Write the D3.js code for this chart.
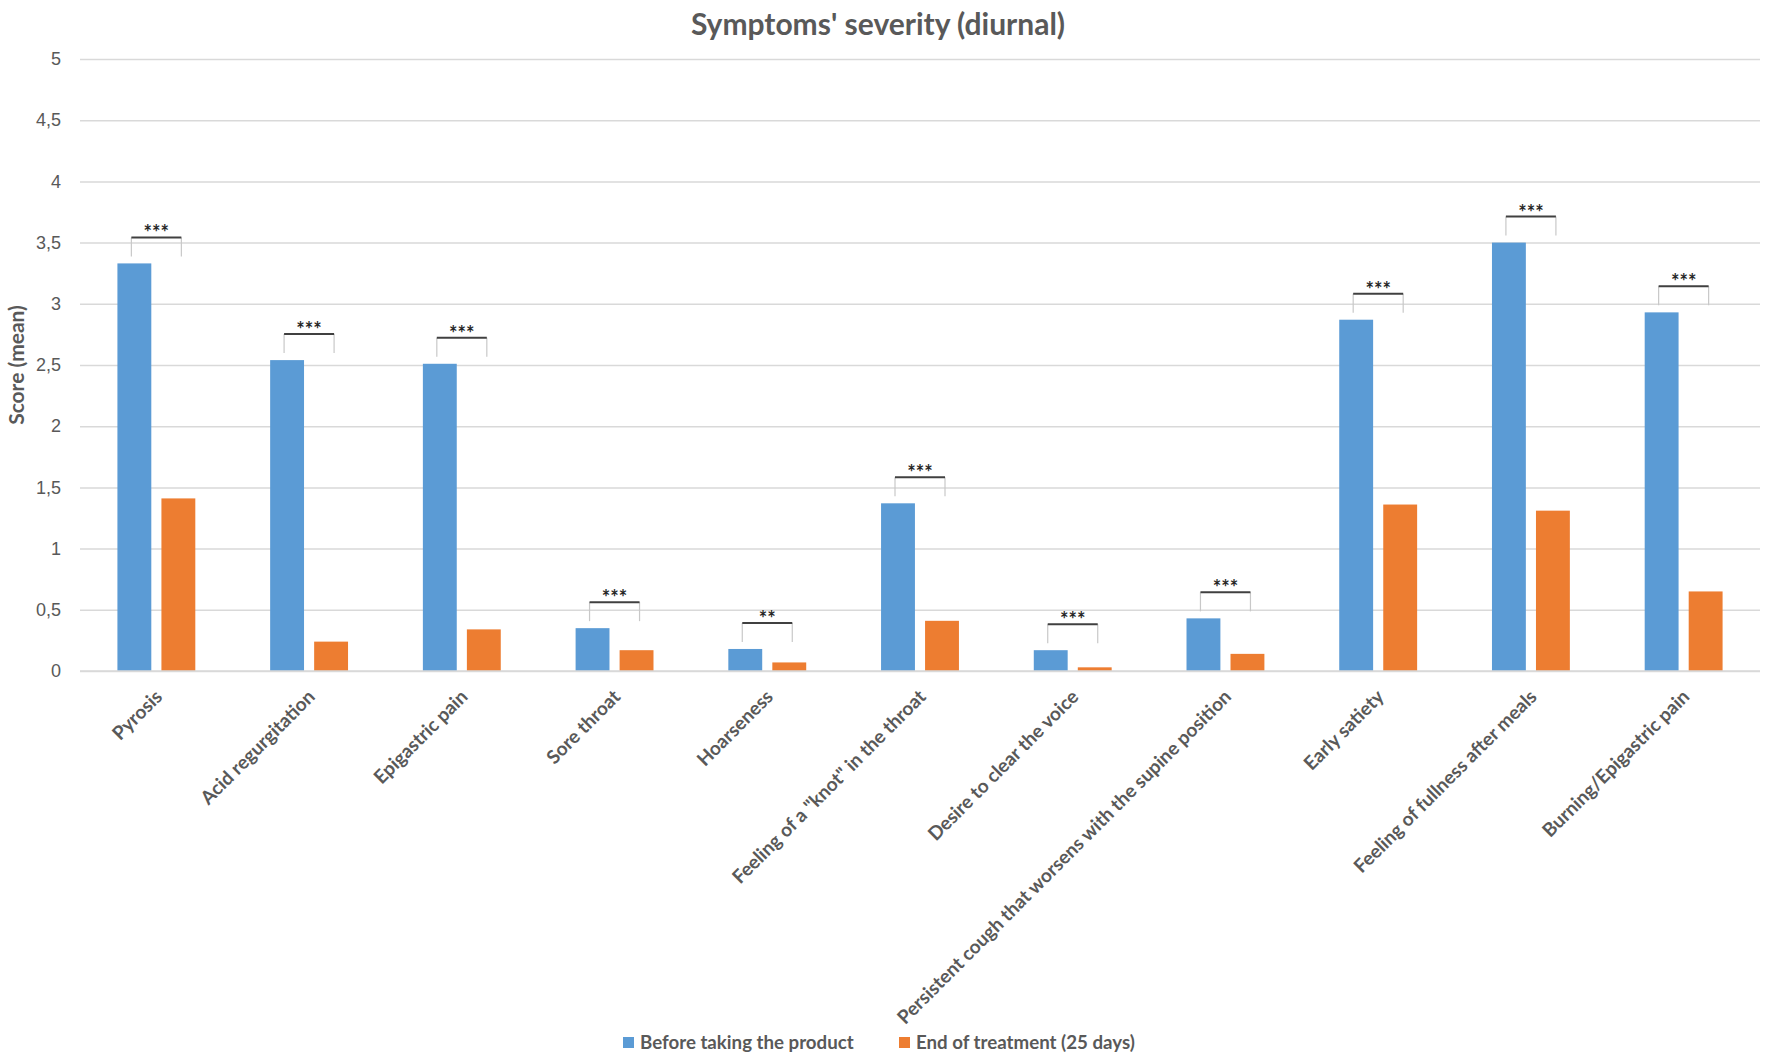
<!DOCTYPE html>
<html>
<head>
<meta charset="utf-8">
<script src="https://cdn.jsdelivr.net/npm/d3@7"></script>
<style>
  body { margin: 0; background: #fff; }
  svg { display: block; font-family: Lato, "Open Sans", sans-serif; }
</style>
</head>
<body>
<svg width="1772" height="1060"></svg>
<script>
const svg = d3.select("svg");
const width = +svg.attr("width");
const height = +svg.attr("height");

// *** DATA ***
const categories = [
    "Pyrosis",
    "Acid regurgitation",
    "Epigastric pain",
    "Sore throat",
    "Hoarseness",
    "Feeling of a \"knot\" in the throat",
    "Desire to clear the voice",
    "Persistent cough that worsens with the supine position",
    "Early satiety",
    "Feeling of fullness after meals",
    "Burning/Epigastric pain"
];
const seriesNames = ["Before taking the product", "End of treatment (25 days)"];
const beforeValues = [3.33, 2.54, 2.51, 0.35, 0.18, 1.37, 0.17, 0.43, 2.87, 3.50, 2.93];
const afterValues = [1.41, 0.24, 0.34, 0.17, 0.07, 0.41, 0.03, 0.14, 1.36, 1.31, 0.65];
const significance = ["***", "***", "***", "***", "**", "***", "***", "***", "***", "***", "***"];
const yTicks = [0, 0.5, 1, 1.5, 2, 2.5, 3, 3.5, 4, 4.5, 5];

const colors = ["#5B9BD5", "#ED7D31"];
const textColor = "#595959";

const margin = {top: 59, right: 12, bottom: 389, left: 80};
const plotW = width - margin.left - margin.right;
const plotH = height - margin.top - margin.bottom;

const g = svg.append("g")
    .attr("transform", `translate(${margin.left},${margin.top})`);

const x0 = d3.scaleBand()
    .domain(categories)
    .range([0, plotW])
    .paddingInner(0.49)
    .paddingOuter(0.245);

const x1 = d3.scaleBand()
    .domain([0, 1])
    .range([0, x0.bandwidth()])
    .paddingInner(0.23);

const y = d3.scaleLinear()
    .domain([0, 5])
    .range([plotH, 0]);

// gridlines + y labels
const yAxis = g.append("g")
    .call(d3.axisLeft(y)
        .tickValues(yTicks)
        .tickSize(-plotW)
        .tickPadding(19)
        .tickFormat(d => String(d).replace(".", ",")));
yAxis.select(".domain").remove();
yAxis.selectAll(".tick line")
    .attr("stroke", "#d9d9d9")
    .attr("stroke-width", 1.5);
yAxis.selectAll(".tick text")
    .attr("fill", textColor)
    .style("font-size", "18px");

// bars
const rows = categories.map((c, i) => ({
    cat: c,
    vals: [beforeValues[i], afterValues[i]],
    sig: significance[i]
}));

const group = g.selectAll(".group")
    .data(rows)
    .enter().append("g")
    .attr("transform", d => `translate(${x0(d.cat)},0)`);

group.selectAll("rect")
    .data(d => d.vals.map((v, k) => ({k, v})))
    .enter().append("rect")
    .attr("x", d => x1(d.k))
    .attr("y", d => y(d.v))
    .attr("width", x1.bandwidth())
    .attr("height", d => plotH - y(d.v))
    .attr("fill", d => colors[d.k]);

// category axis line
g.append("line")
    .attr("x1", 0).attr("x2", plotW)
    .attr("y1", plotH).attr("y2", plotH)
    .attr("stroke", "#d9d9d9")
    .attr("stroke-width", 1.5);

// significance brackets
const bw = x0.bandwidth();
group.each(function(d) {
    const top = y(d3.max(d.vals)) - 26;
    const left = bw / 2 - 25, right = bw / 2 + 25;
    const b = d3.select(this);
    b.append("line")
        .attr("x1", left).attr("x2", left)
        .attr("y1", top).attr("y2", top + 19)
        .attr("stroke", "#c8c8c8").attr("stroke-width", 1.2);
    b.append("line")
        .attr("x1", right).attr("x2", right)
        .attr("y1", top).attr("y2", top + 19)
        .attr("stroke", "#c8c8c8").attr("stroke-width", 1.2);
    b.append("line")
        .attr("x1", left).attr("x2", right)
        .attr("y1", top).attr("y2", top)
        .attr("stroke", "#404040").attr("stroke-width", 2);
    b.append("text")
        .attr("x", bw / 2)
        .attr("y", top + 3)
        .attr("text-anchor", "middle")
        .attr("fill", "#262626")
        .style("font-size", "20px")
        .style("font-weight", "bold")
        .text(d.sig);
});

// rotated category labels
g.selectAll(".cat-label")
    .data(categories)
    .enter().append("text")
    .attr("class", "cat-label")
    .attr("transform", d => `translate(${x0(d) + bw / 2 + 7},${plotH + 27}) rotate(-45)`)
    .attr("text-anchor", "end")
    .attr("fill", textColor)
    .style("font-size", "19px")
    .style("font-weight", "bold")
    .text(d => d);

// title
svg.append("text")
    .attr("x", 878)
    .attr("y", 35)
    .attr("text-anchor", "middle")
    .attr("fill", textColor)
    .style("font-size", "30px")
    .style("font-weight", "bold")
    .text("Symptoms' severity (diurnal)");

// y axis title
svg.append("text")
    .attr("transform", `translate(24,${margin.top + plotH / 2}) rotate(-90)`)
    .attr("text-anchor", "middle")
    .attr("fill", textColor)
    .style("font-size", "21px")
    .style("font-weight", "bold")
    .text("Score (mean)");

// legend
const legendX = [623, 899];
const legend = svg.selectAll(".legend")
    .data(seriesNames)
    .enter().append("g")
    .attr("transform", (d, i) => `translate(${legendX[i]},1037)`);

legend.append("rect")
    .attr("width", 11)
    .attr("height", 11)
    .attr("fill", (d, i) => colors[i]);

legend.append("text")
    .attr("x", 17)
    .attr("y", 12)
    .attr("fill", textColor)
    .style("font-size", "18.7px")
    .style("font-weight", "bold")
    .text(d => d);
</script>
</body>
</html>
